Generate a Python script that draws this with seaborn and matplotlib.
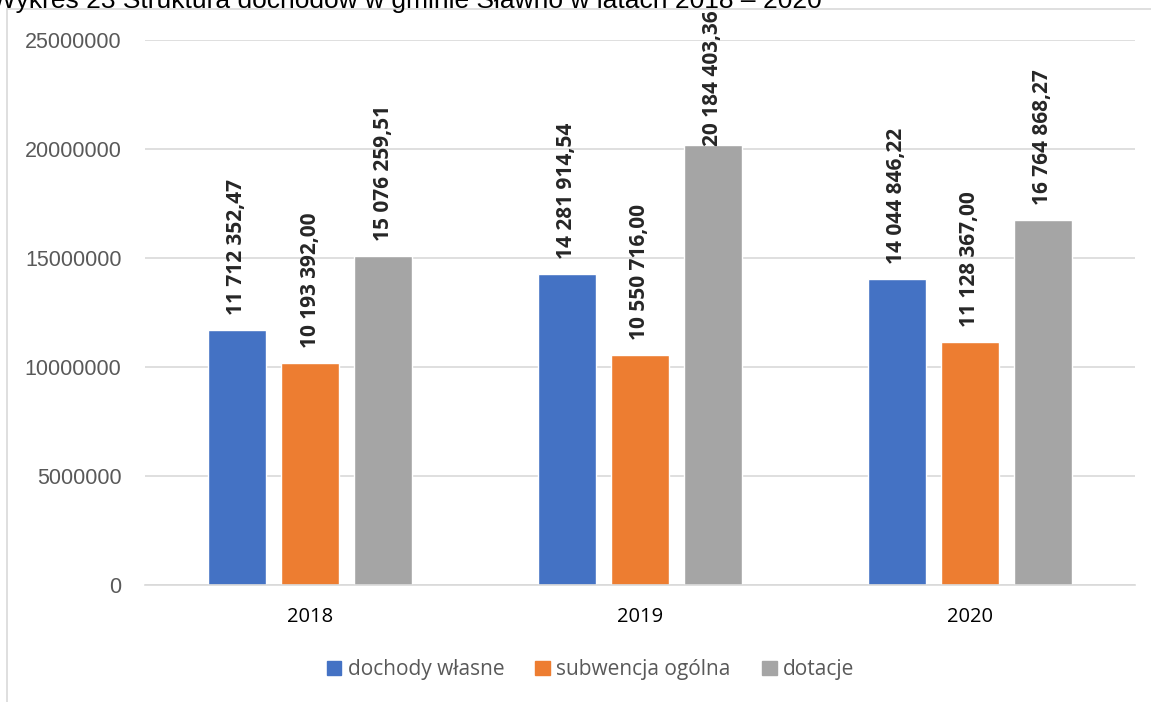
import pandas as pd
import matplotlib.pyplot as plt
import matplotlib.patches as mpatches
import seaborn as sns

# dane
years = ['2018', '2019', '2020']
series_names = ['dochody własne', 'subwencja ogólna', 'dotacje']
dochody_wlasne = [11712352.47, 14281914.54, 14044846.22]
subwencja_ogolna = [10193392.00, 10550716.00, 11128367.00]
dotacje = [15076259.51, 20184403.36, 16764868.27]

palette = {'dochody własne': '#4472C4', 'subwencja ogólna': '#ED7D31', 'dotacje': '#A5A5A5'}


def fmt_pl(v):
    s = f'{v:,.2f}'
    return s.replace(',', ' ').replace('.', ',')


def main():
    df = pd.DataFrame({
        'rok': years * 3,
        'seria': [series_names[0]] * 3 + [series_names[1]] * 3 + [series_names[2]] * 3,
        'wartosc': dochody_wlasne + subwencja_ogolna + dotacje,
    })

    sns.set_theme(style='white')
    plt.rcParams['font.family'] = ['Liberation Sans', 'DejaVu Sans']

    fig = plt.figure(figsize=(11.51, 7.02), dpi=100)
    ax = fig.add_axes([0.126, 0.1667, 0.86, 0.7763])

    sns.barplot(data=df, x='rok', y='wartosc', hue='seria', hue_order=series_names,
                palette=palette, width=0.664, gap=0.2, saturation=1, ax=ax,
                errorbar=None, legend=False)

    ax.set_ylim(0, 25000000)
    ax.set_yticks(range(0, 25000001, 5000000))
    ax.set_yticklabels([str(t) for t in range(0, 25000001, 5000000)])
    ax.yaxis.grid(True, color='#D9D9D9', linewidth=1.2)
    ax.set_axisbelow(True)
    for s in ['top', 'right', 'left']:
        ax.spines[s].set_visible(False)
    ax.spines['bottom'].set_color('#D9D9D9')
    ax.spines['bottom'].set_linewidth(1.2)
    ax.set_xlabel('')
    ax.set_ylabel('')
    ax.tick_params(axis='both', length=0, colors='#595959', labelsize=15.5)
    ax.tick_params(axis='y', pad=17)
    ax.tick_params(axis='x', pad=16)
    for lbl in ax.get_xticklabels():
        lbl.set_color('#000000')
        lbl.set_fontfamily('Open Sans')
        lbl.set_fontsize(14.5)

    # etykiety wartości
    texts = []
    for cont in ax.containers:
        for bar in cont:
            h = bar.get_height()
            t = ax.annotate(fmt_pl(h), (bar.get_x() + bar.get_width() / 2, h),
                            xytext=(0, 15), textcoords='offset pixels',
                            rotation=90, ha='center', va='bottom',
                            fontsize=15, fontweight='bold', fontfamily='Open Sans',
                            annotation_clip=False)
            texts.append(t)

    # etykiety nie mogą wyjść ponad ramkę
    fig.canvas.draw()
    H = fig.bbox.height
    for t in texts:
        bb = t.get_window_extent()
        if bb.y1 > H - 10:
            dx, dy = t.xyann
            t.xyann = (dx, dy - (bb.y1 - (H - 10)))

    handles = [mpatches.Patch(color=palette[n], label=n) for n in series_names]
    fig.legend(handles=handles, loc='center', bbox_to_anchor=(0.513, 0.046), ncol=3,
               frameon=False, handlelength=0.7, handleheight=0.7, handletextpad=0.3,
               columnspacing=1.5, prop={'family': 'Open Sans', 'size': 15},
               labelcolor='#595959')

    # ramka wykresu
    fig.patches.append(mpatches.Rectangle((7 / 1151, -0.1), 1.2, 1 - 9 / 702 + 0.1,
                                          transform=fig.transFigure, fill=False,
                                          edgecolor='#D9D9D9', linewidth=1.2))

    fig.text(-0.008, 1 - 8 / 702,
             'Wykres 23 Struktura dochodów w gminie Sławno w latach 2018 – 2020',
             fontsize=19, va='baseline', ha='left', color='black')

    plt.savefig('out.png', dpi=100)
    plt.close()


if __name__ == '__main__':
    main()
